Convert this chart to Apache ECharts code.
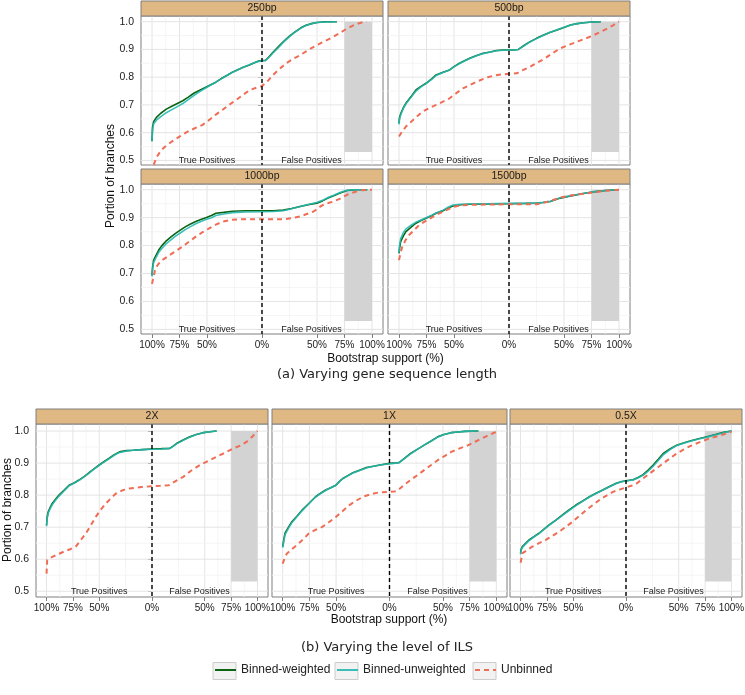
<!DOCTYPE html>
<html><head><meta charset="utf-8">
<script src="https://cdn.jsdelivr.net/npm/echarts@6/dist/echarts.min.js"></script>
<style>html,body{margin:0;padding:0;background:#fff}#chart{width:745px;height:695px}</style>
</head><body><div id="chart"></div>
<script>
// ---------- data ----------
const panelNames = ['250bp', '500bp', '1000bp', '1500bp', '2X', '1X', '0.5X'];
const seriesNames = ['Binned-weighted', 'Binned-unweighted', 'Unbinned'];
const xTickValues = [-100, -75, -50, 0, 50, 75, 100];
const xMinorValues = [-87.5, -62.5, -25, 25, 62.5, 87.5];
const yTickValues = [0.5, 0.6, 0.7, 0.8, 0.9, 1.0];
const yMinorValues = [0.55, 0.65, 0.75, 0.85, 0.95];
const falsePositiveBand = [75, 0.53, 100, 1.0];
const regionLabels = [[-50, 0.5, 'True Positives'], [45, 0.5, 'False Positives']];

const bp250Weighted = [[-100,0.57],[-99.5,0.62],[-98.5,0.64],[-96,0.655],[-92,0.67],[-87,0.685],[-82,0.695],[-77,0.705],[-72,0.715],[-67,0.728],[-62,0.742],[-57,0.752],[-52,0.762],[-47,0.772],[-42,0.782],[-37,0.795],[-32,0.806],[-27,0.818],[-22,0.827],[-17,0.836],[-12,0.843],[-7,0.852],[-3,0.858],[0,0.86],[3,0.86],[6,0.872],[10,0.89],[15,0.91],[20,0.93],[25,0.948],[30,0.963],[35,0.977],[40,0.987],[45,0.993],[50,0.997],[58,1.0],[68,1.0]];
const bp250Unweighted = [[-100,0.568],[-99.5,0.612],[-98.5,0.632],[-96,0.645],[-92,0.658],[-87,0.672],[-82,0.683],[-77,0.694],[-72,0.705],[-67,0.719],[-62,0.734],[-57,0.747],[-52,0.759],[-47,0.771],[-42,0.782],[-37,0.794],[-32,0.806],[-27,0.817],[-22,0.827],[-17,0.836],[-12,0.844],[-7,0.852],[-3,0.857],[0,0.859],[3,0.86],[6,0.87],[10,0.887],[15,0.907],[20,0.928],[25,0.946],[30,0.962],[35,0.976],[40,0.986],[45,0.993],[50,0.997],[58,0.999],[68,1.0]];
const bp250Unbinned = [[-98.5,0.484],[-96,0.51],[-92,0.535],[-88,0.55],[-82,0.568],[-75,0.586],[-68,0.603],[-60,0.618],[-54,0.628],[-48,0.646],[-42,0.665],[-36,0.682],[-30,0.7],[-23.5,0.718],[-17,0.737],[-11,0.754],[-5,0.762],[0,0.768],[5,0.785],[10,0.808],[16,0.83],[22,0.85],[28,0.866],[35,0.88],[42,0.898],[50,0.916],[57,0.93],[65,0.946],[72,0.962],[78,0.977],[85,0.99],[93,1.0],[95,1.0]];

const bp500Weighted = [[-100,0.634],[-99.5,0.655],[-98.3,0.67],[-96,0.69],[-93.7,0.706],[-89,0.73],[-84.6,0.754],[-80,0.767],[-75.4,0.778],[-70,0.795],[-66.3,0.808],[-60,0.818],[-54,0.826],[-50,0.838],[-45,0.85],[-40,0.86],[-35.7,0.868],[-30,0.877],[-23.5,0.886],[-17,0.891],[-11.3,0.896],[-5,0.898],[0,0.898],[4,0.898],[8.5,0.9],[14,0.915],[19.2,0.928],[25,0.94],[31.5,0.952],[37,0.961],[43.7,0.97],[50,0.979],[55.9,0.988],[62,0.993],[68,0.996],[76,0.999],[83.4,1.0]];
const bp500Unweighted = [[-100,0.63],[-99.5,0.65],[-98.3,0.666],[-96,0.688],[-93.7,0.704],[-89,0.728],[-84.6,0.75],[-80,0.765],[-75.4,0.777],[-70,0.793],[-66.3,0.806],[-60,0.817],[-54,0.826],[-50,0.837],[-45,0.849],[-40,0.859],[-35.7,0.867],[-30,0.876],[-23.5,0.885],[-17,0.891],[-11.3,0.895],[-5,0.897],[0,0.898],[4,0.898],[8.5,0.9],[14,0.914],[19.2,0.927],[25,0.939],[31.5,0.951],[37,0.961],[43.7,0.971],[50,0.98],[55.9,0.988],[62,0.993],[68,0.996],[76,0.999],[83.4,1.0]];
const bp500Unbinned = [[-100,0.586],[-97,0.605],[-93.7,0.622],[-86,0.65],[-78.5,0.676],[-72,0.69],[-66.3,0.7],[-60,0.712],[-54,0.724],[-48,0.742],[-41.8,0.76],[-35,0.773],[-29.6,0.784],[-23,0.794],[-17.4,0.802],[-9,0.809],[0,0.812],[7,0.814],[13,0.826],[19.2,0.838],[25,0.851],[31.5,0.865],[39,0.885],[46.7,0.904],[54,0.916],[62,0.928],[70,0.94],[77.3,0.952],[83,0.963],[89.5,0.976],[95,0.988],[100,1.0]];

const bp1000Weighted = [[-100,0.693],[-99.5,0.72],[-98.5,0.748],[-96,0.768],[-93.9,0.784],[-91,0.8],[-87.8,0.814],[-83,0.83],[-78.6,0.844],[-74,0.856],[-69.4,0.868],[-65,0.877],[-60.2,0.886],[-55,0.894],[-51,0.9],[-46,0.908],[-41.9,0.916],[-35,0.919],[-26.6,0.923],[-15,0.925],[0,0.925],[10,0.925],[19.3,0.927],[27,0.933],[34.6,0.94],[42,0.946],[49.8,0.952],[55,0.96],[60,0.97],[65.1,0.978],[71,0.988],[77.3,0.997],[85,1.0],[95.7,1.0]];
const bp1000Unweighted = [[-100,0.69],[-99.5,0.715],[-98.5,0.74],[-96,0.76],[-93.9,0.776],[-91,0.79],[-87.8,0.804],[-83,0.82],[-78.6,0.834],[-74,0.846],[-69.4,0.858],[-65,0.868],[-60.2,0.878],[-55,0.887],[-51,0.893],[-46,0.9],[-41.9,0.908],[-35,0.913],[-26.6,0.918],[-15,0.92],[0,0.921],[10,0.922],[19.3,0.925],[27,0.932],[34.6,0.94],[42,0.947],[49.8,0.954],[55,0.962],[60,0.972],[65.1,0.98],[71,0.99],[77.3,0.998],[85,1.0],[95.7,1.0]];
const bp1000Unbinned = [[-100,0.663],[-98.5,0.69],[-96.9,0.718],[-94,0.735],[-90.8,0.748],[-86,0.76],[-81.6,0.772],[-77,0.784],[-72.5,0.796],[-66,0.815],[-60.2,0.832],[-54,0.848],[-48,0.862],[-42,0.875],[-35.8,0.886],[-28,0.892],[-20.5,0.894],[-10,0.894],[0,0.894],[10,0.894],[19.3,0.894],[27,0.898],[34.6,0.904],[40,0.912],[46.8,0.922],[50,0.93],[52.9,0.94],[58,0.95],[65.1,0.958],[71,0.968],[77.3,0.982],[83,0.99],[89.6,0.998],[100,1.0]];

const bp1500Weighted = [[-100,0.772],[-99.5,0.79],[-98.5,0.814],[-96,0.835],[-93.7,0.85],[-89,0.866],[-84.6,0.88],[-80,0.89],[-75.4,0.898],[-70,0.908],[-66.3,0.916],[-60,0.925],[-55,0.935],[-51,0.942],[-44,0.946],[-35.7,0.948],[-20,0.949],[0,0.95],[15,0.951],[25.3,0.952],[31,0.954],[37.6,0.958],[42,0.964],[46.7,0.97],[54,0.976],[62,0.982],[70,0.988],[80.3,0.994],[90,0.998],[100,1.0]];
const bp1500Unweighted = [[-100,0.775],[-99.5,0.8],[-98.5,0.825],[-96,0.847],[-93.7,0.86],[-89,0.873],[-84.6,0.884],[-80,0.892],[-75.4,0.9],[-70,0.909],[-66.3,0.917],[-60,0.927],[-55,0.938],[-51,0.945],[-44,0.948],[-35.7,0.949],[-20,0.95],[0,0.951],[15,0.951],[25.3,0.952],[31,0.955],[37.6,0.959],[42,0.965],[46.7,0.971],[54,0.977],[62,0.983],[70,0.988],[80.3,0.994],[90,0.998],[100,1.0]];
const bp1500Unbinned = [[-100,0.748],[-98.5,0.775],[-97,0.796],[-94,0.82],[-90.8,0.838],[-86,0.856],[-81.6,0.874],[-75,0.89],[-66.3,0.91],[-58,0.925],[-51,0.938],[-44,0.944],[-35.7,0.946],[-20,0.947],[0,0.948],[15,0.948],[25.3,0.948],[30,0.952],[37.6,0.96],[43,0.967],[49,0.974],[57,0.98],[68,0.986],[80,0.992],[86.6,0.996],[100,1.0]];

const ils2xWeighted = [[-100,0.706],[-99.5,0.73],[-98.4,0.748],[-96.5,0.762],[-94.6,0.774],[-91.5,0.787],[-88.2,0.8],[-83.5,0.815],[-78.7,0.831],[-74,0.838],[-69.2,0.847],[-64.4,0.858],[-59.6,0.87],[-55,0.882],[-50.1,0.894],[-45.3,0.905],[-40.6,0.915],[-35.7,0.926],[-30.8,0.935],[-24,0.939],[-18.1,0.94],[-9,0.942],[0,0.944],[9,0.945],[16.9,0.946],[20,0.953],[23.2,0.961],[29.5,0.972],[35.9,0.982],[42,0.989],[48.6,0.995],[55,0.998],[61.3,1.0]];
const ils2xUnweighted = [[-100,0.703],[-99.5,0.725],[-98.4,0.744],[-96.5,0.758],[-94.6,0.77],[-91.5,0.784],[-88.2,0.797],[-83.5,0.813],[-78.7,0.829],[-74,0.837],[-69.2,0.846],[-64.4,0.857],[-59.6,0.869],[-55,0.881],[-50.1,0.893],[-45.3,0.904],[-40.6,0.914],[-35.7,0.925],[-30.8,0.933],[-24,0.938],[-18.1,0.94],[-9,0.942],[0,0.943],[9,0.944],[16.9,0.946],[20,0.952],[23.2,0.96],[29.5,0.971],[35.9,0.981],[42,0.989],[48.6,0.995],[55,0.998],[61.3,1.0]];
const ils2xUnbinned = [[-100,0.555],[-99.4,0.597],[-97,0.603],[-94.6,0.607],[-88,0.617],[-81.9,0.626],[-77,0.632],[-72.3,0.639],[-67.5,0.66],[-62.8,0.68],[-58,0.706],[-53.3,0.732],[-48.5,0.755],[-43.7,0.774],[-39,0.79],[-34.2,0.805],[-28,0.815],[-21.3,0.821],[-10,0.825],[0,0.828],[8,0.829],[16,0.831],[22,0.843],[29.6,0.857],[37,0.876],[45.5,0.894],[53,0.906],[61.4,0.92],[69,0.932],[77.3,0.946],[84,0.955],[90,0.967],[95,0.982],[100,1.0]];

const ils1xWeighted = [[-100,0.639],[-99,0.66],[-97.8,0.681],[-94.5,0.7],[-91.4,0.717],[-86.5,0.735],[-81.9,0.753],[-75.5,0.774],[-69.2,0.795],[-64.5,0.806],[-59.7,0.816],[-55,0.823],[-50.2,0.831],[-47,0.842],[-43.8,0.852],[-39,0.861],[-34.3,0.87],[-28,0.878],[-21.6,0.886],[-15,0.89],[-8.9,0.894],[0,0.899],[4,0.9],[8.6,0.901],[14,0.915],[19.7,0.93],[26,0.943],[32.4,0.956],[39,0.969],[45.1,0.982],[51,0.989],[57.8,0.995],[64,0.997],[70.5,0.999],[83.2,1.0]];
const ils1xUnweighted = [[-100,0.636],[-99,0.656],[-97.8,0.677],[-94.5,0.697],[-91.4,0.714],[-86.5,0.733],[-81.9,0.751],[-75.5,0.773],[-69.2,0.794],[-64.5,0.805],[-59.7,0.815],[-55,0.823],[-50.2,0.831],[-47,0.841],[-43.8,0.851],[-39,0.86],[-34.3,0.869],[-28,0.877],[-21.6,0.885],[-15,0.89],[-8.9,0.894],[0,0.898],[4,0.899],[8.6,0.901],[14,0.914],[19.7,0.929],[26,0.943],[32.4,0.956],[39,0.969],[45.1,0.981],[51,0.989],[57.8,0.995],[64,0.997],[70.5,0.999],[83.2,1.0]];
const ils1xUnbinned = [[-100,0.586],[-98,0.605],[-96.2,0.617],[-90,0.635],[-85.1,0.649],[-80,0.665],[-75.6,0.68],[-69,0.692],[-62.9,0.701],[-56.5,0.716],[-50.2,0.732],[-44,0.75],[-37.5,0.769],[-31,0.783],[-24.8,0.795],[-18.5,0.802],[-12.1,0.807],[-6,0.809],[0,0.81],[7,0.812],[13,0.83],[19.7,0.847],[26,0.862],[32.4,0.878],[39,0.894],[45.1,0.909],[51.5,0.922],[57.8,0.935],[65.8,0.946],[73.7,0.956],[81.6,0.969],[89.5,0.982],[95,0.99],[100,0.998]];

const ils05xWeighted = [[-100,0.618],[-99.5,0.63],[-98.4,0.639],[-95,0.65],[-92,0.66],[-87,0.671],[-82.5,0.681],[-77.7,0.694],[-72.9,0.707],[-66.5,0.722],[-60.2,0.738],[-54,0.754],[-47.5,0.769],[-41,0.782],[-34.7,0.795],[-28.4,0.806],[-22,0.816],[-15.6,0.827],[-9.2,0.837],[-4.6,0.842],[0,0.845],[6.7,0.848],[11.5,0.855],[16.2,0.864],[21,0.878],[25.8,0.894],[30.6,0.912],[35.3,0.93],[41.7,0.944],[48.1,0.956],[54.5,0.963],[60.8,0.969],[68.8,0.976],[76.8,0.982],[84.8,0.989],[92.7,0.996],[100,1.0]];
const ils05xUnweighted = [[-100,0.615],[-99.5,0.627],[-98.4,0.636],[-95,0.648],[-92,0.658],[-87,0.67],[-82.5,0.68],[-77.7,0.693],[-72.9,0.706],[-66.5,0.721],[-60.2,0.737],[-54,0.752],[-47.5,0.767],[-41,0.781],[-34.7,0.794],[-28.4,0.805],[-22,0.816],[-15.6,0.826],[-9.2,0.836],[-4.6,0.842],[0,0.844],[6.7,0.847],[11.5,0.854],[16.2,0.862],[21,0.875],[25.8,0.89],[30.6,0.908],[35.3,0.926],[41.7,0.942],[48.1,0.955],[54.5,0.962],[60.8,0.968],[68.8,0.975],[76.8,0.981],[84.8,0.988],[92.7,0.995],[100,1.0]];
const ils05xUnbinned = [[-100,0.589],[-99,0.605],[-98.4,0.618],[-94,0.628],[-88.9,0.639],[-82.5,0.65],[-76.1,0.66],[-69.7,0.673],[-63.4,0.686],[-57,0.701],[-50.6,0.717],[-44.2,0.735],[-37.9,0.753],[-31.5,0.769],[-25.2,0.785],[-18.8,0.798],[-12.4,0.81],[-6.2,0.817],[0,0.824],[5,0.829],[9.9,0.836],[16.2,0.852],[22.6,0.868],[29,0.884],[35.4,0.899],[41.7,0.915],[48.1,0.93],[54.5,0.942],[60.8,0.953],[68.8,0.964],[76.8,0.974],[84.8,0.982],[92.7,0.99],[100,0.998]];

const panelData = [
  [bp250Weighted, bp250Unweighted, bp250Unbinned],
  [bp500Weighted, bp500Unweighted, bp500Unbinned],
  [bp1000Weighted, bp1000Unweighted, bp1000Unbinned],
  [bp1500Weighted, bp1500Unweighted, bp1500Unbinned],
  [ils2xWeighted, ils2xUnweighted, ils2xUnbinned],
  [ils1xWeighted, ils1xUnweighted, ils1xUnbinned],
  [ils05xWeighted, ils05xUnweighted, ils05xUnbinned]
];

// ---------- layout & style ----------
const layout = [
  {left: 141, top: 16,  width: 242, height: 149, yMin: 0.4835, yMax: 1.0205, yLab: true,  xLab: false},
  {left: 388, top: 16,  width: 242, height: 149, yMin: 0.4835, yMax: 1.0205, yLab: false, xLab: false},
  {left: 141, top: 184, width: 242, height: 150, yMin: 0.4835, yMax: 1.0205, yLab: true,  xLab: true},
  {left: 388, top: 184, width: 242, height: 150, yMin: 0.4835, yMax: 1.0205, yLab: false, xLab: true},
  {left: 36,  top: 424, width: 232, height: 173, yMin: 0.482,  yMax: 1.022,  yLab: true,  xLab: true},
  {left: 272, top: 424, width: 235, height: 173, yMin: 0.482,  yMax: 1.022,  yLab: false, xLab: true},
  {left: 510, top: 424, width: 232, height: 173, yMin: 0.482,  yMax: 1.022,  yLab: false, xLab: true}
];
const FONT = '"Liberation Sans", Arial, sans-serif';
const lineColors = ['#0a6414', '#26b8b0', '#ef6c55'];
const borderColor = '#7f7f7f';

const grids = [], xAxes = [], yAxes = [], series = [], graphics = [];

layout.forEach((L, i) => {
  grids.push({left: L.left, top: L.top, width: L.width, height: L.height,
    show: true, borderColor: borderColor, borderWidth: 1, backgroundColor: '#fff',
    containLabel: false, outerBoundsMode: 'none'});
  xAxes.push({type: 'value', gridIndex: i, min: -110, max: 110,
    axisLine: {show: false}, splitLine: {show: false},
    axisTick: {show: L.xLab, customValues: xTickValues, length: 4, lineStyle: {color: borderColor}},
    axisLabel: {show: L.xLab, customValues: xTickValues, margin: 6, fontSize: 10, fontFamily: FONT, color: '#222',
      formatter: v => Math.abs(v) + '%'}});
  yAxes.push({type: 'value', gridIndex: i, min: L.yMin, max: L.yMax,
    axisLine: {show: false}, splitLine: {show: false},
    axisTick: {show: L.yLab, customValues: yTickValues, length: 4, lineStyle: {color: borderColor}},
    axisLabel: {show: L.yLab, customValues: yTickValues, margin: 7, fontSize: 10.5, fontFamily: FONT, color: '#222',
      formatter: v => v.toFixed(1)}});

  // grid lines (drawn through the axes' scales)
  const vGrid = xTickValues.map(v => [v, 0.75, 1]).concat(xMinorValues.map(v => [v, 0.75, 0]));
  const hGrid = yTickValues.map(v => [0, v, 3]).concat(yMinorValues.map(v => [0, v, 2]));
  series.push({type: 'custom', xAxisIndex: i, yAxisIndex: i, z: 1, silent: true,
    data: vGrid.concat(hGrid),
    renderItem: (params, api) => {
      const cs = params.coordSys;
      const kind = api.value(2);
      const p = api.coord([api.value(0), api.value(1)]);
      const major = kind === 1 || kind === 3;
      const style = {stroke: major ? '#e4e4e4' : '#f2f2f2', lineWidth: major ? 1 : 0.8};
      if (kind < 2) {
        return {type: 'line', shape: {x1: p[0], y1: cs.y, x2: p[0], y2: cs.y + cs.height}, style: style};
      }
      return {type: 'line', shape: {x1: cs.x, y1: p[1], x2: cs.x + cs.width, y2: p[1]}, style: style};
    }});

  // false-positive shaded band
  series.push({type: 'custom', xAxisIndex: i, yAxisIndex: i, z: 2, silent: true,
    encode: {x: [0, 2], y: [1, 3]},
    data: [falsePositiveBand],
    renderItem: (params, api) => {
      const a = api.coord([api.value(0), api.value(3)]);
      const b = api.coord([api.value(2), api.value(1)]);
      return {type: 'rect', shape: {x: a[0], y: a[1], width: b[0] - a[0], height: b[1] - a[1]},
        style: {fill: '#d3d3d3'}};
    }});

  // curves
  panelData[i].forEach((d, k) => {
    series.push({type: 'line', name: seriesNames[k], xAxisIndex: i, yAxisIndex: i,
      data: d, showSymbol: false, symbol: 'none', z: 3 + k * 0.1, silent: true,
      lineStyle: k === 2
        ? {color: lineColors[k], width: 2, type: [5, 4]}
        : {color: lineColors[k], width: 1.6, opacity: k === 1 ? 0.9 : 1},
      itemStyle: {color: lineColors[k]}});
  });

  // zero line
  series.push({type: 'custom', xAxisIndex: i, yAxisIndex: i, z: 5, silent: true,
    data: [[0, 0.75]],
    renderItem: (params, api) => {
      const cs = params.coordSys;
      const p = api.coord([api.value(0), api.value(1)]);
      return {type: 'line', shape: {x1: p[0], y1: cs.y, x2: p[0], y2: cs.y + cs.height},
        style: {stroke: '#000', lineWidth: 1.4, lineDash: [4, 3]}};
    }});

  // region labels
  series.push({type: 'custom', xAxisIndex: i, yAxisIndex: i, z: 5, silent: true,
    data: regionLabels.map(r => [r[0], r[1]]),
    renderItem: (params, api) => {
      const p = api.coord([api.value(0), api.value(1)]);
      return {type: 'text', x: p[0], y: p[1],
        style: {text: regionLabels[params.dataIndex][2], fill: '#222', font: '9px ' + FONT,
          textAlign: 'center', textVerticalAlign: 'middle'}};
    }});

  // strip header
  graphics.push({type: 'rect', shape: {x: L.left, y: L.top - 15, width: L.width, height: 15},
    style: {fill: '#dfb883', stroke: borderColor, lineWidth: 1}, z: 10});
  graphics.push({type: 'text', x: L.left + L.width / 2, y: L.top - 7.5,
    style: {text: panelNames[i], fill: '#1a1a1a', font: '10.5px ' + FONT, textAlign: 'center', textVerticalAlign: 'middle'}, z: 11});
});

// axis titles & captions
const titleStyle = {fill: '#111', font: '12px ' + FONT, textAlign: 'center', textVerticalAlign: 'middle'};
graphics.push({type: 'text', x: 110.5, y: 176, rotation: Math.PI / 2, style: Object.assign({text: 'Portion of branches'}, titleStyle)});
graphics.push({type: 'text', x: 8, y: 510, rotation: Math.PI / 2, style: Object.assign({text: 'Portion of branches'}, titleStyle)});
graphics.push({type: 'text', x: 385.5, y: 359, style: Object.assign({text: 'Bootstrap support (%)'}, titleStyle)});
graphics.push({type: 'text', x: 389, y: 620, style: Object.assign({text: 'Bootstrap support (%)'}, titleStyle)});
const capStyle = {fill: '#222', font: '13px "DejaVu Sans", sans-serif', textAlign: 'center', textVerticalAlign: 'middle'};
graphics.push({type: 'text', x: 387, y: 375, style: Object.assign({text: '(a) Varying gene sequence length'}, capStyle)});
graphics.push({type: 'text', x: 387, y: 648, style: Object.assign({text: '(b) Varying the level of ILS'}, capStyle)});

// legend key boxes
[213, 335, 473].forEach(x => {
  graphics.push({type: 'rect', shape: {x: x, y: 662.5, width: 23, height: 17},
    style: {fill: '#f2f2f2', stroke: '#cccccc', lineWidth: 1}, z: 0});
});

const legendBase = {orient: 'horizontal', top: 664, itemWidth: 21, itemHeight: 14, itemGap: 4, padding: 0,
  itemStyle: {opacity: 0, borderWidth: 0},
  textStyle: {fontSize: 12, fontFamily: FONT, color: '#222'}, selectedMode: false};

const chart = echarts.init(document.getElementById('chart'), null, {renderer: 'canvas'});
chart.setOption({
  animation: false,
  backgroundColor: '#fff',
  grid: grids, xAxis: xAxes, yAxis: yAxes, series: series,
  legend: [
    Object.assign({data: [seriesNames[0]], left: 214}, legendBase),
    Object.assign({data: [seriesNames[1]], left: 336}, legendBase),
    Object.assign({data: [seriesNames[2]], left: 474}, legendBase)
  ],
  graphic: graphics
});
</script></body></html>
